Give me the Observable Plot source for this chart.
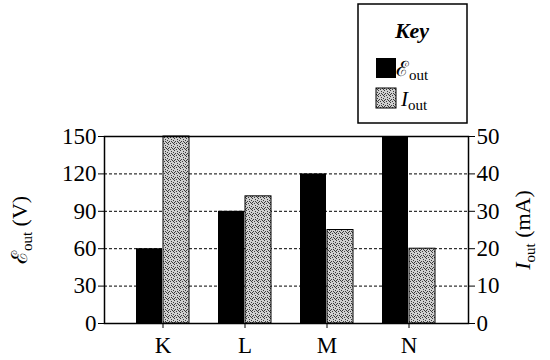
<!DOCTYPE html>
<html><head><meta charset="utf-8">
<script src="https://cdn.jsdelivr.net/npm/d3@7"></script>
<script src="https://cdn.jsdelivr.net/npm/@observablehq/plot@0.6"></script>
<style>
body{margin:0;background:#fff} svg{display:block}
html body #chart svg, html body #chart svg text, html body #chart svg tspan, html body #chart svg g {font-family: "Liberation Serif", serif !important;}
</style>
</head><body><div id="chart"></div>
<script>
const categories = ["K", "L", "M", "N"];
const emfValues = [60, 90, 120, 150];      // ℰout (V)
const currentValues = [50, 34, 25, 20];    // Iout (mA)
const yTicks = [0, 30, 60, 90, 120, 150];
const gridValues = [30, 60, 90, 120];
const ratio = 3; // 150 V on the left axis ↔ 50 mA on the right axis

const emfData = categories.map((c, i) => ({cat: c, value: emfValues[i]}));
const curData = categories.map((c, i) => ({cat: c, value: currentValues[i] * ratio}));

const half = 27;
const font = "Liberation Serif";

const chart = Plot.plot({
  width: 550, height: 360,
  marginLeft: 104, marginRight: 82, marginTop: 136, marginBottom: 37,
  style: {fontFamily: "Liberation Serif", fontSize: "23px", color: "black", background: "white"},
  x: {domain: categories, paddingInner: 0.35, paddingOuter: 0.368, label: null},
  y: {domain: [0, 150], label: null},
  marks: [
    Plot.ruleY(gridValues, {stroke: "black", strokeDasharray: "3,2", strokeWidth: 1}),
    Plot.barY(emfData, {x: "cat", y: "value", fill: "black", insetLeft: 0, insetRight: half}),
    Plot.barY(curData, {x: "cat", y: "value", fill: "url(#stipple)", stroke: "black", strokeWidth: 1, insetLeft: half, insetRight: 0}),
    Plot.axisY(yTicks, {anchor: "left", tickSize: 6, tickPadding: 2, label: null}),
    Plot.axisY(yTicks, {anchor: "right", tickSize: 6, tickPadding: 2, tickFormat: d => String(d / ratio), label: null}),
    Plot.axisX({tickSize: 5, tickPadding: 8, label: null}),
    Plot.frame({stroke: "black", strokeWidth: 1.5})
  ]
});

const svg = d3.select(chart).attr("font-family", font);
const defs = svg.insert("defs", ":first-child");
const pat = defs.append("pattern").attr("id", "stipple").attr("patternUnits", "userSpaceOnUse")
  .attr("width", 6).attr("height", 6);
pat.append("rect").attr("width", 6).attr("height", 6).attr("fill", "#cfcfcf");
[[0,0],[3,1],[5,2],[1,3],[4,4],[2,5],[0,4],[5,5],[3,3]].forEach(([px, py]) =>
  pat.append("rect").attr("x", px).attr("y", py).attr("width", 1).attr("height", 1).attr("fill", "#3a3a3a"));

// Axis titles
const lt = svg.append("text").attr("transform", "translate(27,230) rotate(-90)")
  .attr("text-anchor", "middle").attr("font-size", 22).attr("fill", "black");
lt.append("tspan").text("ℰ");
lt.append("tspan").attr("font-size", 15).attr("dy", 5).text("out");
lt.append("tspan").attr("dy", -5).text(" (V)");

const rt = svg.append("text").attr("transform", "translate(530,230) rotate(-90)")
  .attr("text-anchor", "middle").attr("font-size", 22).attr("fill", "black");
rt.append("tspan").attr("font-style", "italic").text("I");
rt.append("tspan").attr("font-size", 15).attr("dy", 5).text("out");
rt.append("tspan").attr("dy", -5).text(" (mA)");

// Legend (key box)
const lg = svg.append("g").attr("fill", "black");
lg.append("rect").attr("x", 358).attr("y", 4).attr("width", 109).attr("height", 119)
  .attr("fill", "white").attr("stroke", "black").attr("stroke-width", 1.5);
lg.append("text").attr("x", 412).attr("y", 38).attr("text-anchor", "middle")
  .attr("font-size", 22).attr("font-weight", "bold").attr("font-style", "italic").text("Key");
lg.append("rect").attr("x", 376).attr("y", 58).attr("width", 20).attr("height", 20).attr("fill", "black");
lg.append("rect").attr("x", 376).attr("y", 88).attr("width", 20).attr("height", 20)
  .attr("fill", "url(#stipple)").attr("stroke", "black");
const l1 = lg.append("text").attr("x", 412).attr("y", 76).attr("font-size", 21);
l1.append("tspan").text("ℰ");
l1.append("tspan").attr("font-size", 15).attr("dy", 4).text("out");
const l2 = lg.append("text").attr("x", 414).attr("y", 106).attr("font-size", 21);
l2.append("tspan").attr("font-style", "italic").text("I");
l2.append("tspan").attr("font-size", 15).attr("dy", 4).text("out");

svg.selectAll("text").attr("font-family", font).style("font-family", font);
document.getElementById("chart").appendChild(chart);
</script>
</body></html>
